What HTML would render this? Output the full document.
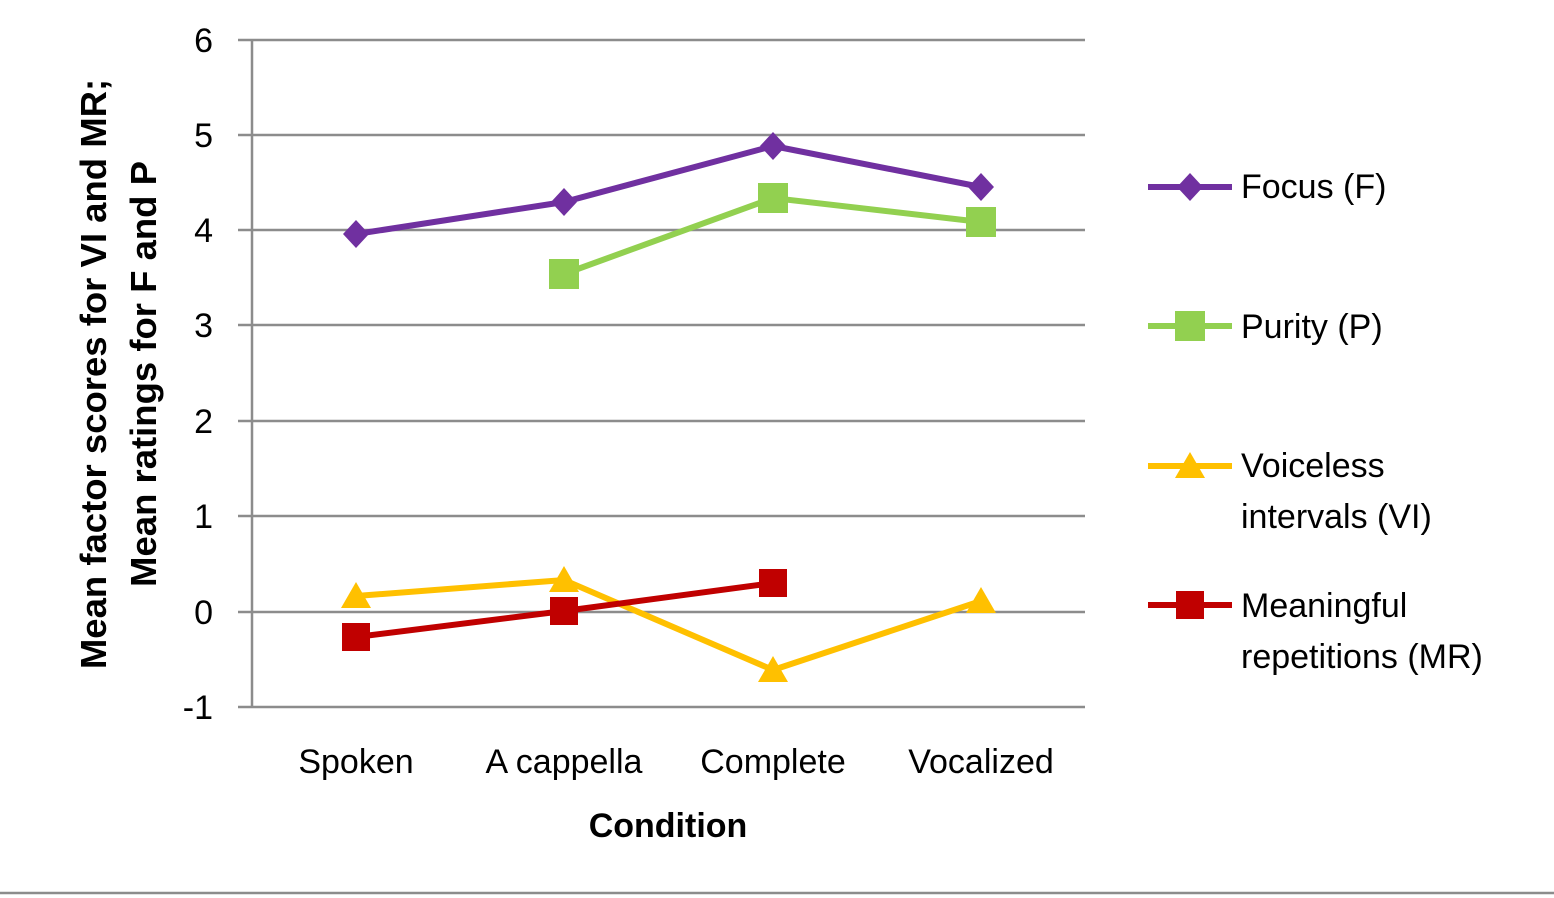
<!DOCTYPE html>
<html><head><style>
body{margin:0;background:#fff;}
svg{display:block;font-family:"Liberation Sans",sans-serif;}
</style></head><body>
<svg width="1554" height="898" viewBox="0 0 1554 898" xmlns="http://www.w3.org/2000/svg">
<g stroke="#8c8c8c" stroke-width="2.5">
<line x1="238" y1="40" x2="1085" y2="40"/>
<line x1="238" y1="135" x2="1085" y2="135"/>
<line x1="238" y1="230" x2="1085" y2="230"/>
<line x1="238" y1="325" x2="1085" y2="325"/>
<line x1="238" y1="421" x2="1085" y2="421"/>
<line x1="238" y1="516" x2="1085" y2="516"/>
<line x1="238" y1="612" x2="1085" y2="612"/>
<line x1="238" y1="707" x2="1085" y2="707"/>
<line x1="252" y1="40" x2="252" y2="707"/>
<line x1="0" y1="893" x2="1554" y2="893"/>
</g>
<g font-size="34" fill="#000" text-anchor="end">
<text x="213" y="52">6</text><text x="213" y="147">5</text><text x="213" y="242">4</text>
<text x="213" y="337">3</text><text x="213" y="433">2</text><text x="213" y="528">1</text>
<text x="213" y="624">0</text><text x="213" y="719">-1</text>
</g>
<g font-size="34" fill="#000" text-anchor="middle">
<text x="356" y="773">Spoken</text><text x="564" y="773">A cappella</text>
<text x="773" y="773">Complete</text><text x="981" y="773">Vocalized</text>
<text x="668" y="837" font-weight="bold">Condition</text>
</g>
<g font-size="36.5" font-weight="bold" text-anchor="middle" transform="translate(118,374) rotate(-90)">
<text x="0" y="-12">Mean factor scores for VI and MR;</text>
<text x="0" y="38">Mean ratings for F and P</text>
</g>
<!-- Focus -->
<polyline points="356,234 564,202 773,146 981,187" fill="none" stroke="#7030A0" stroke-width="6"/>
<g fill="#7030A0">
<polygon points="356,220 369,234 356,248 343,234"/><polygon points="564,188 577,202 564,216 551,202"/>
<polygon points="773,132 786,146 773,160 760,146"/><polygon points="981,173 994,187 981,201 968,187"/>
</g>
<!-- Purity -->
<polyline points="564,274 773,198 981,222" fill="none" stroke="#92D050" stroke-width="6"/>
<g fill="#92D050">
<rect x="549" y="259" width="30" height="30"/><rect x="758" y="183" width="30" height="30"/><rect x="966" y="207" width="30" height="30"/>
</g>
<!-- VI -->
<polyline points="356,596 564,580 773,670 981,601" fill="none" stroke="#FFC000" stroke-width="6"/>
<g fill="#FFC000">
<polygon points="356,582 371,608 341,608"/><polygon points="564,566 579,592 549,592"/>
<polygon points="773,656 788,682 758,682"/><polygon points="981,587 996,613 966,613"/>
</g>
<!-- MR -->
<polyline points="356,637 564,611 773,583" fill="none" stroke="#C00000" stroke-width="6"/>
<g fill="#C00000">
<rect x="342" y="623" width="28" height="28"/><rect x="550" y="597" width="28" height="28"/><rect x="759" y="569" width="28" height="28"/>
</g>
<!-- Legend -->
<line x1="1148" y1="187" x2="1232" y2="187" stroke="#7030A0" stroke-width="6"/>
<polygon points="1190,173 1203,187 1190,201 1177,187" fill="#7030A0"/>
<line x1="1148" y1="326" x2="1232" y2="326" stroke="#92D050" stroke-width="6"/>
<rect x="1175" y="311" width="30" height="30" fill="#92D050"/>
<line x1="1148" y1="466" x2="1232" y2="466" stroke="#FFC000" stroke-width="6"/>
<polygon points="1190,452 1205,478 1175,478" fill="#FFC000"/>
<line x1="1148" y1="605" x2="1232" y2="605" stroke="#C00000" stroke-width="6"/>
<rect x="1176" y="591" width="28" height="28" fill="#C00000"/>
<g font-size="34" fill="#000">
<text x="1241" y="198">Focus (F)</text>
<text x="1241" y="338">Purity (P)</text>
<text x="1241" y="477">Voiceless</text>
<text x="1241" y="528">intervals (VI)</text>
<text x="1241" y="617">Meaningful</text>
<text x="1241" y="668">repetitions (MR)</text>
</g>
</svg>
</body></html>
